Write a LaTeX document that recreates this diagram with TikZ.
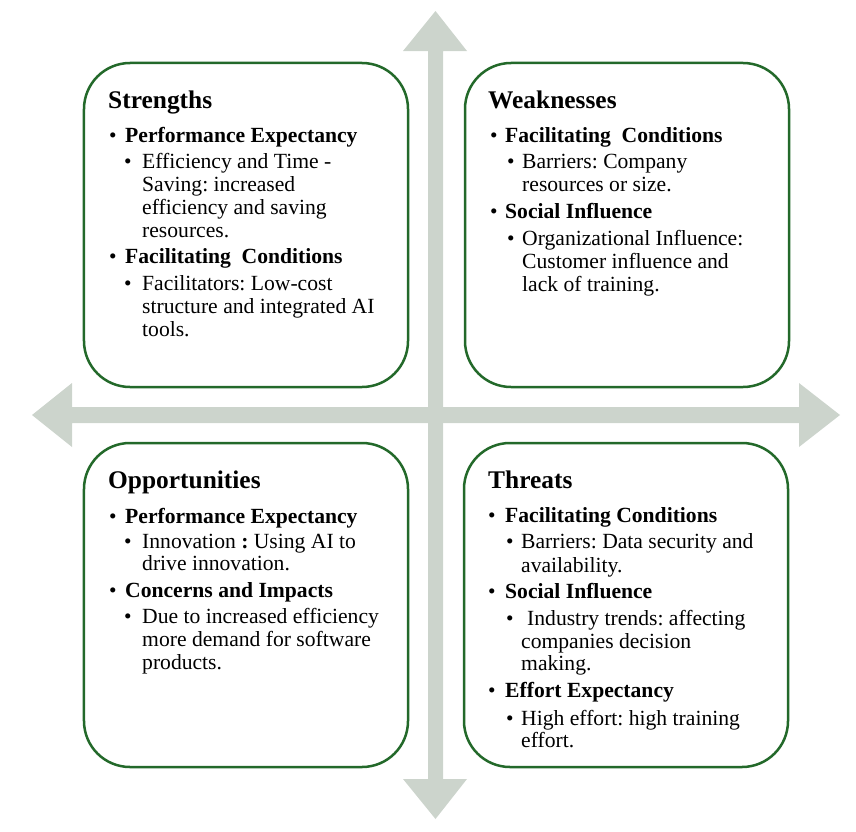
\documentclass[tikz,border=0pt]{standalone}
\usepackage{fontspec}
\setmainfont{Liberation Serif}
\definecolor{boxgreen}{RGB}{35,105,42}
\definecolor{arrowgray}{RGB}{204,212,204}
\frenchspacing
\begin{document}
\frenchspacing
\begin{tikzpicture}[x=1bp,y=-1bp,
  quad/.style={draw=boxgreen,line width=2.5bp,fill=white,rounded corners=46bp,
    minimum width=324bp,minimum height=324bp,inner sep=0},
  ttl/.style={anchor=base west,inner sep=0,font=\fontsize{25.5}{28}\selectfont\bfseries},
  txt/.style={anchor=base west,inner sep=0,font=\fontsize{21.7}{23}\selectfont},
  hd/.style={anchor=base west,inner sep=0,font=\fontsize{21.7}{23}\selectfont\bfseries},
  dot/.style={anchor=base west,inner sep=0,font=\fontsize{21.5}{23}\selectfont}]
\useasboundingbox (0,0) rectangle (856,832);
% background cross arrows
\fill[arrowgray] (32,415) -- (72,383) -- (72,407) -- (799,407) -- (799,383) -- (840,415)
  -- (799,447) -- (799,423) -- (72,423) -- (72,447) -- cycle;
\fill[arrowgray] (435.5,11) -- (467,51) -- (443,51) -- (443,779) -- (467,779) -- (435.5,819)
  -- (403,779) -- (428,779) -- (428,51) -- (403,51) -- cycle;
% boxes
\node[quad] (S) at (246,225) {};
\node[quad] (W) at (627,225) {};
\node[quad] (O) at (246,605) {};
\node[quad] (T) at (626,605) {};
% Strengths
\node[ttl] (st) at (108,108) {Strengths};
\node[dot] (st1d) at (109,142) {•};
\node[hd] (st1) at (125,142) {Performance Expectancy};
\node[dot] (st1ad) at (124,168) {•};
\node[txt] (st1a1) at (142,168) {Efficiency and Time -};
\node[txt] (st1a2) at (142,191) {Saving: increased};
\node[txt] (st1a3) at (142,214) {efficiency and saving};
\node[txt] (st1a4) at (142,237) {resources.};
\node[dot] (st2d) at (109,263) {•};
\node[hd] (st2) at (125,263) {Facilitating\ \ Conditions};
\node[dot] (st2ad) at (124,290) {•};
\node[txt] (st2a1) at (142,290) {Facilitators: Low-cost};
\node[txt] (st2a2) at (142,313) {structure and integrated AI};
\node[txt] (st2a3) at (142,336) {tools.};
% Weaknesses
\node[ttl] (wk) at (488,108) {Weaknesses};
\node[dot] (wk1d) at (490,142) {•};
\node[hd] (wk1) at (505,142) {Facilitating\ \ Conditions};
\node[dot] (wk1ad) at (507,168) {•};
\node[txt] (wk1a1) at (522,168) {Barriers: Company};
\node[txt] (wk1a2) at (522,191) {resources or size.};
\node[dot] (wk2d) at (490,218) {•};
\node[hd] (wk2) at (505,218) {Social Influence};
\node[dot] (wk2ad) at (507,245) {•};
\node[txt] (wk2a1) at (522,245) {Organizational Influence:};
\node[txt] (wk2a2) at (522,268) {Customer influence and};
\node[txt] (wk2a3) at (522,291) {lack of training.};
% Opportunities
\node[ttl] (op) at (108,488) {Opportunities};
\node[dot] (op1d) at (109,523) {•};
\node[hd] (op1) at (125,523) {Performance Expectancy};
\node[dot] (op1ad) at (124,548) {•};
\node[txt] (op1a1) at (142,548) {Innovation \textbf{:} Using AI to};
\node[txt] (op1a2) at (142,570) {drive innovation.};
\node[dot] (op2d) at (109,597) {•};
\node[hd] (op2) at (125,597) {Concerns and Impacts};
\node[dot] (op2ad) at (124,623) {•};
\node[txt] (op2a1) at (142,623) {Due to increased efficiency};
\node[txt] (op2a2) at (142,646) {more demand for software};
\node[txt] (op2a3) at (142,669) {products.};
% Threats
\node[ttl] (th) at (488,488) {Threats};
\node[dot] (th1d) at (488,522) {•};
\node[hd] (th1) at (505,522) {Facilitating Conditions};
\node[dot] (th1ad) at (506,548) {•};
\node[txt] (th1a1) at (521,548) {Barriers: Data security and};
\node[txt] (th1a2) at (521,572) {availability.};
\node[dot] (th2d) at (488,598) {•};
\node[hd] (th2) at (505,598) {Social Influence};
\node[dot] (th2ad) at (506,625) {•};
\node[txt] (th2a1) at (527,625) {Industry trends: affecting};
\node[txt] (th2a2) at (521,648) {companies decision};
\node[txt] (th2a3) at (521,670) {making.};
\node[dot] (th3d) at (488,697) {•};
\node[hd] (th3) at (505,697) {Effort Expectancy};
\node[dot] (th3ad) at (506,725) {•};
\node[txt] (th3a1) at (521,725) {High effort: high training};
\node[txt] (th3a2) at (521,747) {effort.};
\end{tikzpicture}
\end{document}
